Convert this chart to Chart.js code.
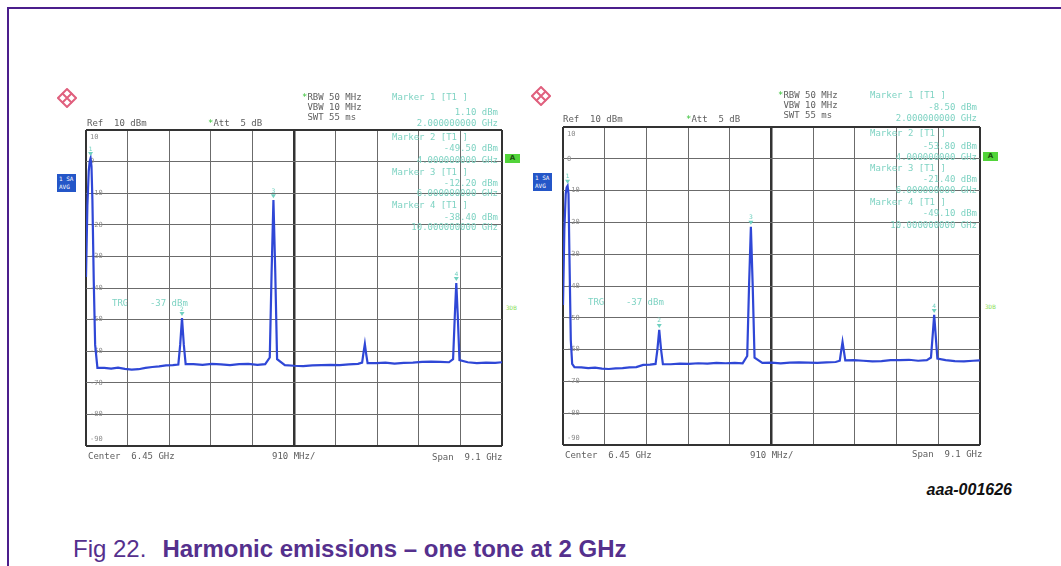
<!DOCTYPE html>
<html>
<head>
<meta charset="utf-8">
<title>Harmonic emissions – one tone at 2 GHz</title>
<script src="https://cdn.jsdelivr.net/npm/chart.js@4.4.1/dist/chart.umd.min.js"></script>
<style>
  html, body { margin: 0; padding: 0; background: #fff; }
  body { width: 1061px; height: 566px; position: relative; overflow: hidden; font-family: "Liberation Sans", Arial, sans-serif; }
  .frame { position: absolute; left: 7px; top: 7px; width: 1100px; height: 600px; border-left: 2px solid #4b1e8c; border-top: 2px solid #4b1e8c; }
  canvas { position: absolute; filter: blur(0.35px); }
  .sa { position: absolute; font: 9px "DejaVu Sans Mono", monospace; color: #5e5e5e; white-space: pre; line-height: 10px; filter: blur(0.3px); }
  .sa.mk { color: #7fd3c3; }
  .sa.r { text-align: right; }
  .g { color: #3cc43c; }
  .trace-box { position: absolute; width: 19px; height: 18px; background: #2456c8; color: #fff; font: 6px "DejaVu Sans Mono", monospace; line-height: 8px; padding: 1px 0 0 2px; box-sizing: border-box; white-space: pre; }
  .lvl-box { position: absolute; width: 15px; height: 9px; background: #52d43a; color: #1d4d12; font: bold 7px "DejaVu Sans", sans-serif; line-height: 9px; text-align: center; }
  .lvl-tag { position: absolute; font: 6px "DejaVu Sans Mono", monospace; color: #8ee05c; line-height: 6px; }
  .logo { position: absolute; width: 20px; height: 20px; }
  .fig-id { position: absolute; right: 49px; top: 481px; font: italic bold 16px "Liberation Sans", Arial, sans-serif; color: #111; }
  .caption { position: absolute; left: 73px; top: 535px; font-size: 24px; color: #55308d; white-space: pre; }
  .caption b { margin-left: 16px; }
</style>
</head>
<body>
<div class="frame"></div>

<!-- first sweep -->
<svg class="logo" style="left:57px;top:88px" viewBox="0 0 20 20"><path d="M10 1 L19 10 L10 19 L1 10 Z" fill="none" stroke="#e0607e" stroke-width="2"/><path d="M5 5 L15 15 M15 5 L5 15" stroke="#e0607e" stroke-width="2"/></svg>
<div class="sa" style="left:87px;top:118px">Ref  10 dBm</div>
<div class="sa" style="left:208px;top:118px"><span class="g">*</span>Att  5 dB</div>
<div class="sa" style="left:302px;top:92px"><span class="g">*</span>RBW 50 MHz
 VBW 10 MHz
 SWT 55 ms</div>
<div class="trace-box" style="left:57px;top:174px">1 SA
AVG</div>
<div class="lvl-box" style="left:505px;top:154px">A</div>
<div class="lvl-tag" style="left:506px;top:305px">3DB</div>
<div class="sa mk" style="left:112px;top:298px">TRG    -37 dBm</div>
<div class="sa" style="left:88px;top:451px">Center  6.45 GHz</div>
<div class="sa" style="left:272px;top:451px">910 MHz/</div>
<div class="sa" style="left:432px;top:452px">Span  9.1 GHz</div>
<canvas id="sweepA" width="430" height="330" style="left:80px;top:124px"></canvas>
<div id="markersA"></div>

<!-- second sweep -->
<svg class="logo" style="left:531px;top:86px" viewBox="0 0 20 20"><path d="M10 1 L19 10 L10 19 L1 10 Z" fill="none" stroke="#e0607e" stroke-width="2"/><path d="M5 5 L15 15 M15 5 L5 15" stroke="#e0607e" stroke-width="2"/></svg>
<div class="sa" style="left:563px;top:114px">Ref  10 dBm</div>
<div class="sa" style="left:686px;top:114px"><span class="g">*</span>Att  5 dB</div>
<div class="sa" style="left:778px;top:90px"><span class="g">*</span>RBW 50 MHz
 VBW 10 MHz
 SWT 55 ms</div>
<div class="trace-box" style="left:533px;top:173px">1 SA
AVG</div>
<div class="lvl-box" style="left:983px;top:152px">A</div>
<div class="lvl-tag" style="left:985px;top:304px">3DB</div>
<div class="sa mk" style="left:588px;top:297px">TRG    -37 dBm</div>
<div class="sa" style="left:565px;top:450px">Center  6.45 GHz</div>
<div class="sa" style="left:750px;top:450px">910 MHz/</div>
<div class="sa" style="left:912px;top:449px">Span  9.1 GHz</div>
<canvas id="sweepB" width="430" height="330" style="left:557px;top:121px"></canvas>
<div id="markersB"></div>

<div class="fig-id">aaa-001626</div>
<div class="caption">Fig 22.<b>Harmonic emissions – one tone at 2 GHz</b></div>

<script>
// Harmonic emissions, one tone at 2 GHz — two analyser sweeps, 1.9 to 11 GHz

const SWEEP_START = 1.9;   // GHz (center 6.45 GHz, span 9.1 GHz)
const SWEEP_STOP = 11.0;
const DIVISIONS = 10;

const COLORS = {
  trace: '#2f47d6',
  grid: '#6b6b6b',
  frame: '#333333',
  marker: '#6fd0bf',
  tick: '#8a8a8a',
};

// ── Sweep data ────────────────────────────────────────────

const freqGHz = [
  1.90, 1.93, 1.96, 1.98, 2.00, 2.02, 2.04, 2.07, 2.10, 2.15,
  2.30, 2.45, 2.60, 2.75, 2.90, 3.05, 3.20, 3.35, 3.50, 3.65, 3.80,
  3.92, 3.96, 4.00, 4.04, 4.08,
  4.25, 4.45, 4.65, 4.85, 5.05, 5.25, 5.45, 5.65, 5.82,
  5.92, 5.96, 6.00, 6.04, 6.08,
  6.25, 6.45, 6.65, 6.85, 7.05, 7.25, 7.45, 7.65, 7.85,
  7.94, 7.97, 8.00, 8.03, 8.06,
  8.25, 8.45, 8.65, 8.85, 9.05, 9.25, 9.45, 9.65, 9.84,
  9.93, 9.97, 10.00, 10.03, 10.07,
  10.25, 10.45, 10.65, 10.85, 11.00,
];

// dBm, first sweep
const levelsA = [
  -36.5, -14.0, -3.0, 0.0, 1.10, -1.5, -12.0, -38.0, -58.0, -65.3,
  -65.3, -65.5, -65.2, -65.6, -65.8, -65.7, -65.3, -65.0, -64.8, -64.5, -64.4,
  -64.2, -58.0, -49.50, -58.0, -64.1,
  -64.1, -64.3, -64.0, -64.2, -64.4, -64.1, -64.0, -64.3, -64.1,
  -62.0, -35.0, -12.20, -35.0, -62.5,
  -64.4, -64.6, -64.7, -64.5, -64.4, -64.3, -64.4, -64.2, -64.0,
  -63.6, -60.5, -57.7, -61.0, -63.8,
  -63.8, -63.6, -63.9, -63.7, -63.6, -63.4, -63.3, -63.4, -63.5,
  -62.5, -48.0, -38.40, -48.0, -62.8,
  -63.5, -63.8, -63.6, -63.7, -63.5,
];

// dBm, second sweep
const levelsB = [
  -46.0, -22.0, -11.0, -9.0, -8.50, -11.0, -30.0, -57.0, -64.5, -65.5,
  -65.6, -65.8, -65.7, -66.0, -66.1, -65.9, -65.8, -65.6, -65.5, -64.8, -64.7,
  -64.5, -60.0, -53.80, -60.0, -64.6,
  -64.6, -64.4, -64.5, -64.3, -64.4, -64.2, -64.3, -64.2, -64.3,
  -62.0, -40.0, -21.40, -40.0, -62.5,
  -64.2, -64.1, -64.3, -64.1, -64.0, -64.1, -64.2, -64.0, -63.9,
  -63.5, -60.5, -57.6, -60.5, -63.4,
  -63.3, -63.5, -63.7, -63.6, -63.3, -63.3, -63.2, -63.5, -63.3,
  -62.5, -55.0, -49.10, -55.0, -62.8,
  -63.3, -63.6, -63.7, -63.5, -63.4,
];

const markerFreqGHz = [2, 4, 6, 10];
const markerLevelsA = [1.10, -49.50, -12.20, -38.40];
const markerLevelsB = [-8.50, -53.80, -21.40, -49.10];

const levelTicks = [10, 0, -10, -20, -30, -40, -50, -60, -70, -80, -90];

// ── Helpers ──────────────────────────────────────────────

const freqTicks = Array.from({ length: DIVISIONS + 1 },
  (_, i) => SWEEP_START + i * (SWEEP_STOP - SWEEP_START) / DIVISIONS);

function gridWidth(ctx) {
  if (ctx.index === 0 || ctx.index === DIVISIONS) return 2;
  return 1;
}

// level labels inside the left edge, and numbered marker flags over the peaks
function sweepDecor(markerLevels) {
  return {
    id: 'sweepDecor',
    beforeDatasetsDraw(chart) {
      const { ctx, chartArea: a, scales: { y } } = chart;
      ctx.save();
      ctx.font = '7px "DejaVu Sans Mono", monospace';
      ctx.fillStyle = COLORS.tick;
      ctx.textAlign = 'left';
      levelTicks.forEach((v, i) => {
        const py = y.getPixelForValue(v);
        ctx.textBaseline = i === 0 ? 'top' : i === levelTicks.length - 1 ? 'bottom' : 'middle';
        ctx.fillText(String(v), a.left + 4, i === 0 ? py + 4 : i === levelTicks.length - 1 ? py - 3 : py);
      });
      ctx.restore();
    },
    afterDatasetsDraw(chart) {
      const { ctx, scales: { x, y } } = chart;
      ctx.save();
      ctx.fillStyle = COLORS.marker;
      ctx.font = '6px "DejaVu Sans", sans-serif';
      ctx.textAlign = 'center';
      ctx.textBaseline = 'bottom';
      markerFreqGHz.forEach((f, i) => {
        const px = x.getPixelForValue(f);
        const py = y.getPixelForValue(markerLevels[i]);
        ctx.beginPath();
        ctx.moveTo(px - 2.5, py - 6);
        ctx.lineTo(px + 2.5, py - 6);
        ctx.lineTo(px, py - 2);
        ctx.closePath();
        ctx.fill();
        ctx.fillText(String(i + 1), px, py - 6);
      });
      ctx.restore();
    },
  };
}

function makeSweep(canvasId, levels, markerLevels, padding) {
  return new Chart(document.getElementById(canvasId), {
    type: 'line',
    data: {
      datasets: [{
        data: freqGHz.map((f, i) => ({ x: f, y: levels[i] })),
        borderColor: COLORS.trace,
        borderWidth: 2.2,
        pointRadius: 0,
        tension: 0,
      }],
    },
    options: {
      responsive: false,
      animation: false,
      events: [],
      layout: { padding },
      plugins: { legend: { display: false }, tooltip: { enabled: false } },
      scales: {
        x: {
          type: 'linear',
          min: SWEEP_START,
          max: SWEEP_STOP,
          afterBuildTicks: s => { s.ticks = freqTicks.map(v => ({ value: v })); },
          ticks: { display: false },
          border: { display: false },
          grid: {
            drawTicks: false,
            color: c => (c.index === 0 || c.index === DIVISIONS || c.index === DIVISIONS / 2) ? COLORS.frame : COLORS.grid,
            lineWidth: c => c.index === DIVISIONS / 2 ? 2.5 : gridWidth(c),
          },
        },
        y: {
          min: -90,
          max: 10,
          afterBuildTicks: s => { s.ticks = levelTicks.map(v => ({ value: v })); },
          ticks: { display: false },
          border: { display: false },
          grid: {
            drawTicks: false,
            color: c => (c.index === 0 || c.index === DIVISIONS) ? COLORS.frame : COLORS.grid,
            lineWidth: gridWidth,
          },
        },
      },
    },
    plugins: [sweepDecor(markerLevels)],
  });
}

// marker readout block: header, level, frequency
function writeMarkers(holderId, markerLevels, left, right, rows) {
  const holder = document.getElementById(holderId);
  markerFreqGHz.forEach((f, i) => {
    const [t0, t1, t2] = rows[i];
    holder.insertAdjacentHTML('beforeend', `
      <div class="sa mk" style="left:${left}px;top:${t0}px">Marker ${i + 1} [T1 ]</div>
      <div class="sa mk r" style="right:${1061 - right}px;top:${t1}px">${markerLevels[i].toFixed(2)} dBm</div>
      <div class="sa mk r" style="right:${1061 - right}px;top:${t2}px">${f.toFixed(9)} GHz</div>`);
  });
}

// ── Main ─────────────────────────────────────────────────

makeSweep('sweepA', levelsA, markerLevelsA, { left: 6, top: 6, right: 8, bottom: 8 });
makeSweep('sweepB', levelsB, markerLevelsB, { left: 6, top: 6, right: 7, bottom: 6 });

writeMarkers('markersA', markerLevelsA, 392, 498,
  [[92, 107, 118], [132, 143, 155], [167, 178, 188], [200, 212, 222]]);
writeMarkers('markersB', markerLevelsB, 870, 977,
  [[90, 102, 113], [128, 141, 152], [163, 174, 185], [197, 208, 220]]);
</script>
</body>
</html>
